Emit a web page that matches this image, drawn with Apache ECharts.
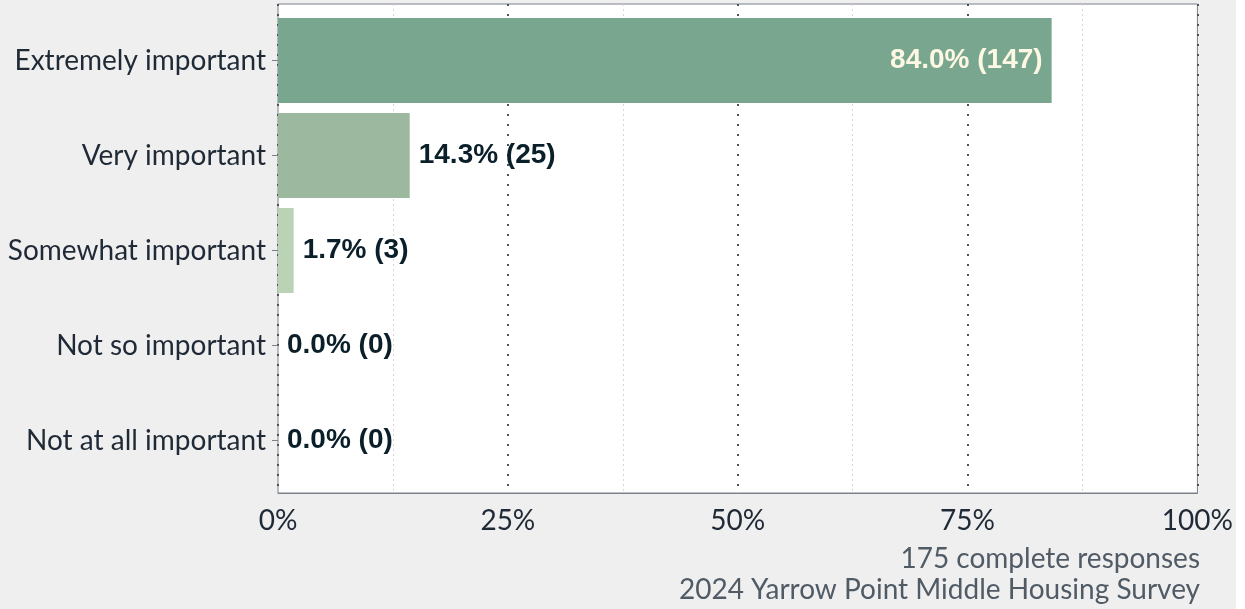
<!DOCTYPE html>
<html>
<head>
    <meta charset="utf-8">
    <title>Importance</title>
    <script src="https://cdn.jsdelivr.net/npm/echarts@6/dist/echarts.min.js"></script>
    <style>
        body { margin:0; background:#ffffff; }
        #main { width:1236px; height:609px; }
    </style>
</head>
<body>
    <div id="main"></div>
    <script type="text/javascript">
        // survey answers, top to bottom
        var categories = ['Extremely important', 'Very important', 'Somewhat important', 'Not so important', 'Not at all important'];
        var percents = [84.0, 14.3, 1.7, 0.0, 0.0];
        var counts = [147, 25, 3, 0, 0];
        var barColors = ['#79a68e', '#9cb9a0', '#b9d3b4', '#d4e6cf', '#e6f1e2'];
        var tickValues = [0, 25, 50, 75, 100];
        var captionLines = ['175 complete responses', '2024 Yarrow Point Middle Housing Survey'];

        var chart = echarts.init(document.getElementById('main'));

        var seriesData = [];
        for (var i = 0; i < percents.length; i++) {
            var item = {
                value: percents[i],
                itemStyle: { color: barColors[i] }
            };
            // the long bar keeps its label inside
            if (percents[i] > 50) {
                item.label = { position: 'insideRight', color: '#fdf8e4' };
            }
            seriesData.push(item);
        }

        var xMin = tickValues[0];
        var xMax = tickValues[tickValues.length - 1];

        var option = {
            backgroundColor: '#efefef',
            animation: false,
            // grid 0: panel with border, grid lines and x labels
            // grid 1: bars, inset a little like ggplot's expand
            grid: [{
                left: 278,
                right: 37,
                top: 4,
                bottom: 116,
                show: true,
                backgroundColor: '#ffffff',
                borderColor: '#7b818a',
                borderWidth: 1
            }, {
                left: 278,
                right: 37,
                top: 13,
                bottom: 121
            }],
            xAxis: [{
                type: 'value',
                gridIndex: 0,
                min: xMin,
                max: xMax,
                interval: 25,
                axisLine: { show: true, lineStyle: { color: '#7b818a' } },
                axisTick: { show: false },
                axisLabel: {
                    margin: 14,
                    fontFamily: 'Lato',
                    fontSize: 28,
                    color: '#1f2a36',
                    formatter: function (v) { return v + '%'; }
                },
                splitLine: {
                    show: true,
                    lineStyle: { color: '#4e535a', width: 2, type: [2, 8] }
                },
                minorTick: { show: false, splitNumber: 2 },
                minorSplitLine: {
                    show: true,
                    lineStyle: { color: '#d6d6d6', width: 1, type: [2, 3] }
                }
            }, {
                type: 'value',
                gridIndex: 1,
                min: xMin,
                max: xMax,
                show: false
            }],
            yAxis: [{
                type: 'category',
                gridIndex: 0,
                data: [''],
                show: false
            }, {
                type: 'category',
                gridIndex: 1,
                data: categories,
                inverse: true,
                axisLine: { show: false },
                axisTick: { show: true, length: 6, alignWithLabel: true, lineStyle: { color: '#7b818a' } },
                axisLabel: {
                    margin: 12,
                    fontFamily: 'Lato',
                    fontSize: 28,
                    color: '#1f2a36',
                    padding: [3, 0, 0, 0]
                },
                splitLine: { show: false }
            }],
            series: [{
                type: 'bar',
                xAxisIndex: 1,
                yAxisIndex: 1,
                data: seriesData,
                barCategoryGap: '10.5%',
                label: {
                    show: true,
                    position: 'right',
                    distance: 9,
                    fontFamily: 'Liberation Sans',
                    fontWeight: 'bold',
                    fontSize: 28,
                    color: '#0b1f2a',
                    formatter: function (p) {
                        return percents[p.dataIndex].toFixed(1) + '% (' + counts[p.dataIndex] + ')';
                    }
                }
            }],
            graphic: [{
                type: 'text',
                x: 1200,
                y: 543,
                style: {
                    text: captionLines.join('\n'),
                    align: 'right',
                    fontFamily: 'Lato',
                    fontSize: 28,
                    lineHeight: 31,
                    fill: '#505b66'
                }
            }]
        };
        chart.setOption(option);
    </script>
</body>
</html>
